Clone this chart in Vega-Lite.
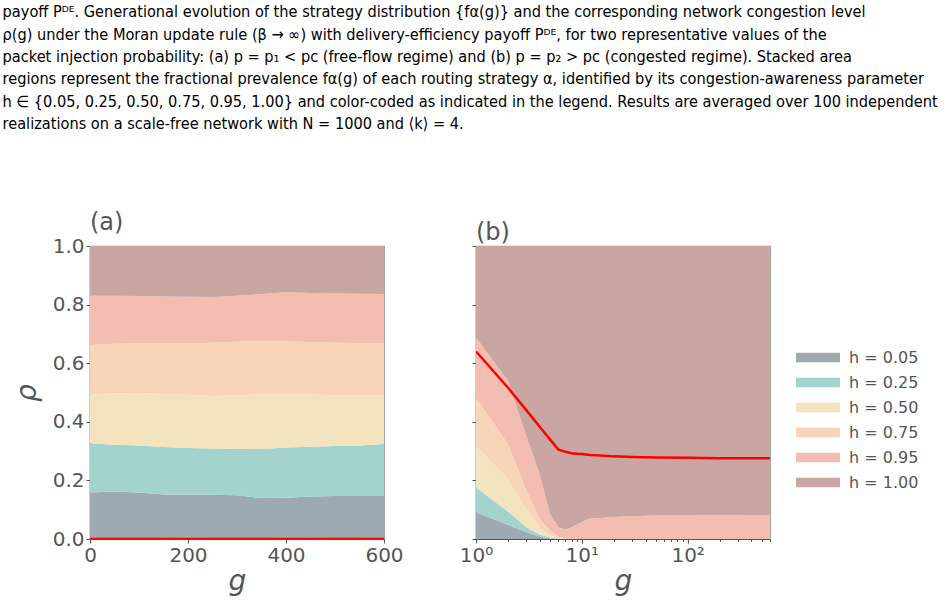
{
  "$schema": "https://vega.github.io/schema/vega-lite/v6.json",
  "background": "white",
  "padding": {"left": 2, "top": 4, "right": 5, "bottom": 2},
  "title": {
    "text": [
      "payoff Pᴰᴱ. Generational evolution of the strategy distribution {fα(g)} and the corresponding network congestion level",
      "ρ(g) under the Moran update rule (β → ∞) with delivery-efficiency payoff Pᴰᴱ, for two representative values of the",
      "packet injection probability: (a) p = p₁ < pc (free-flow regime) and (b) p = p₂ > pc (congested regime). Stacked area",
      "regions represent the fractional prevalence fα(g) of each routing strategy α, identified by its congestion-awareness parameter",
      "h ∈ {0.05, 0.25, 0.50, 0.75, 0.95, 1.00} and color-coded as indicated in the legend. Results are averaged over 100 independent",
      "realizations on a scale-free network with N = 1000 and ⟨k⟩ = 4."
    ],
    "anchor": "start",
    "frame": "bounds",
    "font": "Liberation Sans Narrow, DejaVu Sans Condensed, sans-serif",
    "fontSize": 16.2,
    "fontWeight": "normal",
    "color": "#000000",
    "lineHeight": 22.4,
    "offset": 78,
    "dx": -10
  },
  "datasets": {
    "a": [
      {"g": 0, "h": "0.05", "f": 0.159}, {"g": 0, "h": "0.25", "f": 0.168}, {"g": 0, "h": "0.50", "f": 0.167}, {"g": 0, "h": "0.75", "f": 0.168}, {"g": 0, "h": "0.95", "f": 0.168}, {"g": 0, "h": "1.00", "f": 0.170},
      {"g": 50, "h": "0.05", "f": 0.162}, {"g": 50, "h": "0.25", "f": 0.160}, {"g": 50, "h": "0.50", "f": 0.175}, {"g": 50, "h": "0.75", "f": 0.169}, {"g": 50, "h": "0.95", "f": 0.164}, {"g": 50, "h": "1.00", "f": 0.170},
      {"g": 100, "h": "0.05", "f": 0.159}, {"g": 100, "h": "0.25", "f": 0.160}, {"g": 100, "h": "0.50", "f": 0.179}, {"g": 100, "h": "0.75", "f": 0.170}, {"g": 100, "h": "0.95", "f": 0.161}, {"g": 100, "h": "1.00", "f": 0.171},
      {"g": 150, "h": "0.05", "f": 0.152}, {"g": 150, "h": "0.25", "f": 0.162}, {"g": 150, "h": "0.50", "f": 0.181}, {"g": 150, "h": "0.75", "f": 0.172}, {"g": 150, "h": "0.95", "f": 0.161}, {"g": 150, "h": "1.00", "f": 0.172},
      {"g": 200, "h": "0.05", "f": 0.151}, {"g": 200, "h": "0.25", "f": 0.160}, {"g": 200, "h": "0.50", "f": 0.181}, {"g": 200, "h": "0.75", "f": 0.175}, {"g": 200, "h": "0.95", "f": 0.160}, {"g": 200, "h": "1.00", "f": 0.173},
      {"g": 250, "h": "0.05", "f": 0.151}, {"g": 250, "h": "0.25", "f": 0.158}, {"g": 250, "h": "0.50", "f": 0.179}, {"g": 250, "h": "0.75", "f": 0.182}, {"g": 250, "h": "0.95", "f": 0.156}, {"g": 250, "h": "1.00", "f": 0.174},
      {"g": 300, "h": "0.05", "f": 0.149}, {"g": 300, "h": "0.25", "f": 0.159}, {"g": 300, "h": "0.50", "f": 0.183}, {"g": 300, "h": "0.75", "f": 0.182}, {"g": 300, "h": "0.95", "f": 0.157}, {"g": 300, "h": "1.00", "f": 0.170},
      {"g": 350, "h": "0.05", "f": 0.140}, {"g": 350, "h": "0.25", "f": 0.167}, {"g": 350, "h": "0.50", "f": 0.187}, {"g": 350, "h": "0.75", "f": 0.181}, {"g": 350, "h": "0.95", "f": 0.161}, {"g": 350, "h": "1.00", "f": 0.164},
      {"g": 400, "h": "0.05", "f": 0.141}, {"g": 400, "h": "0.25", "f": 0.171}, {"g": 400, "h": "0.50", "f": 0.182}, {"g": 400, "h": "0.75", "f": 0.180}, {"g": 400, "h": "0.95", "f": 0.168}, {"g": 400, "h": "1.00", "f": 0.158},
      {"g": 450, "h": "0.05", "f": 0.145}, {"g": 450, "h": "0.25", "f": 0.170}, {"g": 450, "h": "0.50", "f": 0.178}, {"g": 450, "h": "0.75", "f": 0.179}, {"g": 450, "h": "0.95", "f": 0.168}, {"g": 450, "h": "1.00", "f": 0.160},
      {"g": 500, "h": "0.05", "f": 0.147}, {"g": 500, "h": "0.25", "f": 0.170}, {"g": 500, "h": "0.50", "f": 0.174}, {"g": 500, "h": "0.75", "f": 0.179}, {"g": 500, "h": "0.95", "f": 0.168}, {"g": 500, "h": "1.00", "f": 0.162},
      {"g": 550, "h": "0.05", "f": 0.147}, {"g": 550, "h": "0.25", "f": 0.172}, {"g": 550, "h": "0.50", "f": 0.171}, {"g": 550, "h": "0.75", "f": 0.179}, {"g": 550, "h": "0.95", "f": 0.168}, {"g": 550, "h": "1.00", "f": 0.163},
      {"g": 600, "h": "0.05", "f": 0.147}, {"g": 600, "h": "0.25", "f": 0.177}, {"g": 600, "h": "0.50", "f": 0.166}, {"g": 600, "h": "0.75", "f": 0.177}, {"g": 600, "h": "0.95", "f": 0.169}, {"g": 600, "h": "1.00", "f": 0.164}
    ],
    "b": [
      {"g": 1, "h": "0.05", "f": 0.091}, {"g": 1, "h": "0.25", "f": 0.085}, {"g": 1, "h": "0.50", "f": 0.142}, {"g": 1, "h": "0.75", "f": 0.165}, {"g": 1, "h": "0.95", "f": 0.205}, {"g": 1, "h": "1.00", "f": 0.312},
      {"g": 2, "h": "0.05", "f": 0.049}, {"g": 2, "h": "0.25", "f": 0.045}, {"g": 2, "h": "0.50", "f": 0.111}, {"g": 2, "h": "0.75", "f": 0.119}, {"g": 2, "h": "0.95", "f": 0.216}, {"g": 2, "h": "1.00", "f": 0.460},
      {"g": 3, "h": "0.05", "f": 0.023}, {"g": 3, "h": "0.25", "f": 0.017}, {"g": 3, "h": "0.50", "f": 0.060}, {"g": 3, "h": "0.75", "f": 0.065}, {"g": 3, "h": "0.95", "f": 0.185}, {"g": 3, "h": "1.00", "f": 0.650},
      {"g": 4, "h": "0.05", "f": 0.008}, {"g": 4, "h": "0.25", "f": 0.007}, {"g": 4, "h": "0.50", "f": 0.025}, {"g": 4, "h": "0.75", "f": 0.028}, {"g": 4, "h": "0.95", "f": 0.152}, {"g": 4, "h": "1.00", "f": 0.780},
      {"g": 5, "h": "0.05", "f": 0.002}, {"g": 5, "h": "0.25", "f": 0.003}, {"g": 5, "h": "0.50", "f": 0.007}, {"g": 5, "h": "0.75", "f": 0.018}, {"g": 5, "h": "0.95", "f": 0.055}, {"g": 5, "h": "1.00", "f": 0.915},
      {"g": 6, "h": "0.05", "f": 0.0}, {"g": 6, "h": "0.25", "f": 0.001}, {"g": 6, "h": "0.50", "f": 0.002}, {"g": 6, "h": "0.75", "f": 0.005}, {"g": 6, "h": "0.95", "f": 0.032}, {"g": 6, "h": "1.00", "f": 0.960},
      {"g": 7, "h": "0.05", "f": 0.0}, {"g": 7, "h": "0.25", "f": 0.0}, {"g": 7, "h": "0.50", "f": 0.0}, {"g": 7, "h": "0.75", "f": 0.002}, {"g": 7, "h": "0.95", "f": 0.030}, {"g": 7, "h": "1.00", "f": 0.968},
      {"g": 8, "h": "0.05", "f": 0.0}, {"g": 8, "h": "0.25", "f": 0.0}, {"g": 8, "h": "0.50", "f": 0.0}, {"g": 8, "h": "0.75", "f": 0.0}, {"g": 8, "h": "0.95", "f": 0.040}, {"g": 8, "h": "1.00", "f": 0.960},
      {"g": 9, "h": "0.05", "f": 0.0}, {"g": 9, "h": "0.25", "f": 0.0}, {"g": 9, "h": "0.50", "f": 0.0}, {"g": 9, "h": "0.75", "f": 0.0}, {"g": 9, "h": "0.95", "f": 0.050}, {"g": 9, "h": "1.00", "f": 0.950},
      {"g": 10, "h": "0.05", "f": 0.0}, {"g": 10, "h": "0.25", "f": 0.0}, {"g": 10, "h": "0.50", "f": 0.0}, {"g": 10, "h": "0.75", "f": 0.0}, {"g": 10, "h": "0.95", "f": 0.057}, {"g": 10, "h": "1.00", "f": 0.943},
      {"g": 11, "h": "0.05", "f": 0.0}, {"g": 11, "h": "0.25", "f": 0.0}, {"g": 11, "h": "0.50", "f": 0.0}, {"g": 11, "h": "0.75", "f": 0.0}, {"g": 11, "h": "0.95", "f": 0.066}, {"g": 11, "h": "1.00", "f": 0.934},
      {"g": 12, "h": "0.05", "f": 0.0}, {"g": 12, "h": "0.25", "f": 0.0}, {"g": 12, "h": "0.50", "f": 0.0}, {"g": 12, "h": "0.75", "f": 0.0}, {"g": 12, "h": "0.95", "f": 0.070}, {"g": 12, "h": "1.00", "f": 0.930},
      {"g": 15, "h": "0.05", "f": 0.0}, {"g": 15, "h": "0.25", "f": 0.0}, {"g": 15, "h": "0.50", "f": 0.0}, {"g": 15, "h": "0.75", "f": 0.0}, {"g": 15, "h": "0.95", "f": 0.072}, {"g": 15, "h": "1.00", "f": 0.928},
      {"g": 20, "h": "0.05", "f": 0.0}, {"g": 20, "h": "0.25", "f": 0.0}, {"g": 20, "h": "0.50", "f": 0.0}, {"g": 20, "h": "0.75", "f": 0.0}, {"g": 20, "h": "0.95", "f": 0.075}, {"g": 20, "h": "1.00", "f": 0.925},
      {"g": 30, "h": "0.05", "f": 0.0}, {"g": 30, "h": "0.25", "f": 0.0}, {"g": 30, "h": "0.50", "f": 0.0}, {"g": 30, "h": "0.75", "f": 0.0}, {"g": 30, "h": "0.95", "f": 0.078}, {"g": 30, "h": "1.00", "f": 0.922},
      {"g": 50, "h": "0.05", "f": 0.0}, {"g": 50, "h": "0.25", "f": 0.0}, {"g": 50, "h": "0.50", "f": 0.0}, {"g": 50, "h": "0.75", "f": 0.0}, {"g": 50, "h": "0.95", "f": 0.080}, {"g": 50, "h": "1.00", "f": 0.920},
      {"g": 100, "h": "0.05", "f": 0.0}, {"g": 100, "h": "0.25", "f": 0.0}, {"g": 100, "h": "0.50", "f": 0.0}, {"g": 100, "h": "0.75", "f": 0.0}, {"g": 100, "h": "0.95", "f": 0.080}, {"g": 100, "h": "1.00", "f": 0.920},
      {"g": 200, "h": "0.05", "f": 0.0}, {"g": 200, "h": "0.25", "f": 0.0}, {"g": 200, "h": "0.50", "f": 0.0}, {"g": 200, "h": "0.75", "f": 0.0}, {"g": 200, "h": "0.95", "f": 0.081}, {"g": 200, "h": "1.00", "f": 0.919},
      {"g": 400, "h": "0.05", "f": 0.0}, {"g": 400, "h": "0.25", "f": 0.0}, {"g": 400, "h": "0.50", "f": 0.0}, {"g": 400, "h": "0.75", "f": 0.0}, {"g": 400, "h": "0.95", "f": 0.080}, {"g": 400, "h": "1.00", "f": 0.920},
      {"g": 600, "h": "0.05", "f": 0.0}, {"g": 600, "h": "0.25", "f": 0.0}, {"g": 600, "h": "0.50", "f": 0.0}, {"g": 600, "h": "0.75", "f": 0.0}, {"g": 600, "h": "0.95", "f": 0.080}, {"g": 600, "h": "1.00", "f": 0.920}
    ],
    "rhoA": [{"g": 0, "rho": 0.0}, {"g": 600, "rho": 0.0}],
    "rhoB": [
      {"g": 1, "rho": 0.640}, {"g": 2, "rho": 0.517}, {"g": 3, "rho": 0.439}, {"g": 4, "rho": 0.383}, {"g": 5, "rho": 0.340},
      {"g": 6, "rho": 0.305}, {"g": 7, "rho": 0.298}, {"g": 8, "rho": 0.293}, {"g": 9, "rho": 0.291}, {"g": 10, "rho": 0.290},
      {"g": 12, "rho": 0.287}, {"g": 15, "rho": 0.285}, {"g": 20, "rho": 0.282}, {"g": 30, "rho": 0.280}, {"g": 50, "rho": 0.278},
      {"g": 100, "rho": 0.277}, {"g": 200, "rho": 0.276}, {"g": 400, "rho": 0.276}, {"g": 600, "rho": 0.276}
    ]
  },
  "hconcat": [
    {
      "width": 294,
      "height": 293,
      "title": {"text": "(a)"},
      "layer": [
        {
          "data": {"name": "a"},
          "mark": {"type": "area", "interpolate": "linear"},
          "encoding": {
            "x": {"field": "g", "type": "quantitative", "scale": {"domain": [0, 600], "nice": false},
                  "axis": {"values": [0, 200, 400, 600], "title": "g", "labelFlush": false}},
            "y": {"field": "f", "type": "quantitative", "stack": "zero", "scale": {"domain": [0, 1], "nice": false},
                  "axis": {"values": [0, 0.2, 0.4, 0.6, 0.8, 1.0], "format": ".1f", "title": "ρ", "titlePadding": 11}},
            "order": {"field": "h", "type": "ordinal", "sort": "ascending"},
            "color": {"field": "h", "type": "nominal",
                      "scale": {"domain": ["0.05", "0.25", "0.50", "0.75", "0.95", "1.00"],
                                "range": ["#9DAAB1", "#A2D3CC", "#F4E3BF", "#F8D5B8", "#F3BDB1", "#C9A6A1"]},
                      "legend": {"title": null, "orient": "none", "legendX": 717, "legendY": 100.5,
                                 "symbolType": "M-2,-0.44H2V0.44H-2Z", "symbolSize": 484, "symbolStrokeWidth": 0,
                                 "symbolOpacity": 1, "labelFont": "DejaVu Sans", "labelFontSize": 16, "labelColor": "#555555",
                                 "labelOffset": 20, "rowPadding": 6, "labelExpr": "'h = ' + datum.label"}}
          }
        },
        {
          "data": {"name": "rhoA"},
          "mark": {"type": "line", "color": "#FF0000", "strokeWidth": 2.5, "clip": true},
          "encoding": {
            "x": {"field": "g", "type": "quantitative"},
            "y": {"field": "rho", "type": "quantitative"}
          }
        }
      ]
    },
    {
      "width": 294,
      "height": 293,
      "title": {"text": "(b)"},
      "layer": [
        {
          "data": {"name": "b"},
          "mark": {"type": "area", "interpolate": "linear"},
          "encoding": {
            "x": {"field": "g", "type": "quantitative", "scale": {"type": "log", "domain": [1, 600], "nice": false},
                  "axis": {"values": [1, 10, 100], "title": "g", "labelFlush": false,
                           "labelExpr": "datum.value == 1 ? '10⁰' : datum.value == 10 ? '10¹' : '10²'"}},
            "y": {"field": "f", "type": "quantitative", "stack": "zero", "scale": {"domain": [0, 1], "nice": false},
                  "axis": {"values": [0, 0.2, 0.4, 0.6, 0.8, 1.0], "labels": false, "title": null}},
            "order": {"field": "h", "type": "ordinal", "sort": "ascending"},
            "color": {"field": "h", "type": "nominal",
                      "scale": {"domain": ["0.05", "0.25", "0.50", "0.75", "0.95", "1.00"],
                                "range": ["#9DAAB1", "#A2D3CC", "#F4E3BF", "#F8D5B8", "#F3BDB1", "#C9A6A1"]},
                      "legend": {"title": null, "orient": "none", "legendX": 717, "legendY": 100.5,
                                 "symbolType": "M-2,-0.44H2V0.44H-2Z", "symbolSize": 484, "symbolStrokeWidth": 0,
                                 "symbolOpacity": 1, "labelFont": "DejaVu Sans", "labelFontSize": 16, "labelColor": "#555555",
                                 "labelOffset": 20, "rowPadding": 6, "labelExpr": "'h = ' + datum.label"}}
          }
        },
        {
          "data": {"name": "rhoB"},
          "mark": {"type": "line", "color": "#FF0000", "strokeWidth": 2.5, "clip": true},
          "encoding": {
            "x": {"field": "g", "type": "quantitative",
                  "axis": {"orient": "bottom", "values": [2, 3, 4, 5, 6, 7, 8, 9, 20, 30, 40, 50, 60, 70, 80, 90, 200, 300, 400, 500, 600],
                           "labels": false, "domain": false, "title": null, "tickSize": 2.5}},
            "y": {"field": "rho", "type": "quantitative"}
          }
        }
      ],
      "resolve": {"axis": {"x": "independent"}}
    }
  ],
  "spacing": 92,
  "bounds": "flush",
  "resolve": {"scale": {"color": "shared"}, "legend": {"color": "shared"}},
  "config": {
    "view": {"stroke": "#999999", "strokeWidth": 1.2},
    "title": {"anchor": "start", "frame": "group", "font": "DejaVu Sans", "fontSize": 24, "fontWeight": "normal", "color": "#555555", "offset": 1},
    "axis": {
      "grid": false,
      "labelFont": "DejaVu Sans", "labelFontSize": 20, "labelColor": "#555555", "labelPadding": 2,
      "tickColor": "#555555", "tickSize": 4, "tickWidth": 1,
      "domainColor": "#555555", "domainWidth": 1.2,
      "titleFont": "DejaVu Sans", "titleFontSize": 28, "titleFontStyle": "italic", "titleFontWeight": "normal", "titleColor": "#555555"
    },
    "axisX": {"titlePadding": 2},
    "axisY": {"titlePadding": 6}
  }
}
